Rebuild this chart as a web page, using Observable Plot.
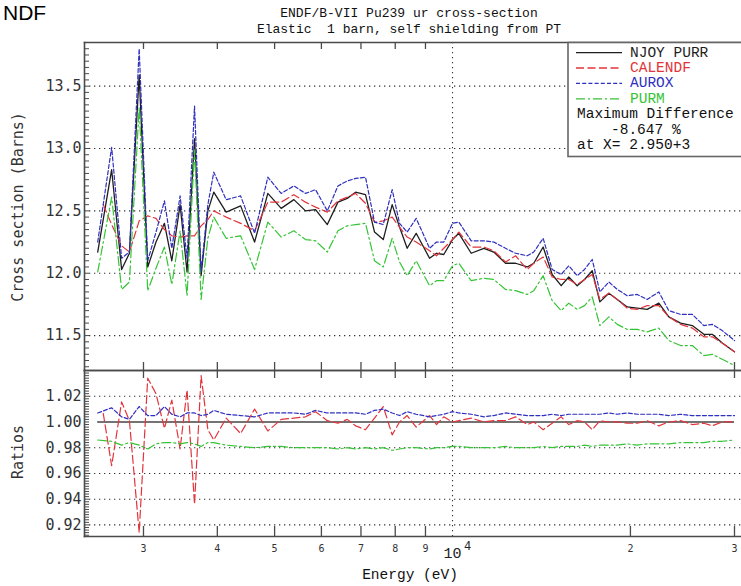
<!DOCTYPE html>
<html><head><meta charset="utf-8">
<script src="https://cdn.jsdelivr.net/npm/d3@7"></script>
<script src="https://cdn.jsdelivr.net/npm/@observablehq/plot@0.6"></script>
<style>
html,body{margin:0;padding:0;background:#fff}
#wrap{position:relative;width:741px;height:586px;overflow:hidden;background:#fff}
#wrap svg.plt{position:absolute;left:0;overflow:visible}
.t{position:absolute;white-space:pre;color:#111}
.mono{font-family:"Liberation Mono",monospace}
.dmono{font-family:"DejaVu Sans Mono",monospace}
</style></head>
<body><div id="wrap"></div>
<script>
// ---------- data ----------
const energy = [2510, 2650, 2755, 2840, 2950, 3050, 3150, 3255, 3350, 3460,
  3555, 3660, 3755, 3855, 3945, 4140, 4380, 4625, 4870, 5130,
  5390, 5640, 5865, 6140, 6400, 6635, 6855, 7125, 7380, 7635,
  7905, 8135, 8380, 8680, 9145, 9395, 9665, 10000, 10250, 10755,
  11300, 11745, 12295, 12785, 13380, 13725, 14235, 14745, 15270, 15730,
  16255, 16725, 17235, 17755, 18390, 19000, 19750, 20535, 21350, 22340,
  23225, 24320, 25450, 26625, 27510, 28600, 30000];
const calendfEnergy = [2565, 2650, 2755, 2840, 2950, 3050, 3150, 3255, 3350, 3460,
  3555, 3660, 3755, 3855, 3945, 4140, 4380, 4625, 4870, 5130,
  5390, 5640, 5865, 6140, 6400, 6635, 6855, 7125, 7380, 7635,
  7905, 8135, 8380, 8680, 9145, 9395, 9665, 10000, 10250, 10755,
  11300, 11745, 12295, 12785, 13380, 13725, 14235, 14745, 15270, 15730,
  16255, 16725, 17235, 17755, 18390, 19000, 19750, 20535, 21350, 22340,
  23225, 24320, 25450, 26625, 27510, 28600, 30000];
const njoyPurr = [12.17, 12.83, 12.03, 12.16, 13.59, 12.05, 12.25, 12.40, 12.10, 12.55,
  12.01, 13.08, 11.98, 12.50, 12.65, 12.49, 12.54, 12.25, 12.64, 12.52,
  12.59, 12.50, 12.51, 12.39, 12.57, 12.60, 12.65, 12.63, 12.33, 12.27,
  12.55, 12.37, 12.20, 12.32, 12.12, 12.16, 12.15, 12.27, 12.32, 12.16,
  12.20, 12.17, 12.08, 12.08, 12.05, 12.08, 12.21, 11.99, 11.90, 11.97,
  11.90, 11.95, 12.02, 11.77, 11.84, 11.79, 11.73, 11.72, 11.71, 11.76,
  11.65, 11.60, 11.58, 11.51, 11.51, 11.44, 11.37];
const calendf = [12.55, 12.39, 12.22, 12.17, 12.42, 12.46, 12.44, 12.35, 12.30, 12.29,
  12.30, 12.30, 12.38, 12.43, 12.50, 12.45, 12.40, 12.34, 12.57, 12.57,
  12.63, 12.57, 12.53, 12.49, 12.58, 12.61, 12.64, 12.56, 12.41, 12.42,
  12.45, 12.37, 12.29, 12.25, 12.18, 12.14, 12.20, 12.27, 12.33, 12.21,
  12.21, 12.18, 12.09, 12.14, 12.03, 12.08, 12.13, 11.97, 11.95, 11.95,
  11.91, 11.95, 11.99, 11.79, 11.84, 11.79, 11.72, 11.71, 11.74, 11.74,
  11.65, 11.59, 11.56, 11.49, 11.49, 11.44, 11.37];
const aurox = [12.25, 13.01, 12.12, 12.17, 13.80, 12.10, 12.33, 12.58, 12.20, 12.62,
  12.12, 13.34, 12.01, 12.55, 12.81, 12.59, 12.62, 12.32, 12.77, 12.64,
  12.70, 12.64, 12.67, 12.50, 12.70, 12.74, 12.76, 12.77, 12.41, 12.39,
  12.67, 12.40, 12.33, 12.44, 12.20, 12.25, 12.25, 12.40, 12.41, 12.26,
  12.26, 12.25, 12.20, 12.16, 12.14, 12.17, 12.28, 12.03, 11.99, 12.06,
  11.98, 12.03, 12.11, 11.85, 11.93, 11.87, 11.82, 11.83, 11.79, 11.85,
  11.70, 11.67, 11.67, 11.58, 11.59, 11.54, 11.46];
const purm = [12.01, 12.61, 11.87, 11.93, 13.33, 11.86, 12.04, 12.21, 11.91, 12.34,
  11.82, 12.99, 11.79, 12.28, 12.45, 12.28, 12.30, 12.03, 12.41, 12.29,
  12.34, 12.27, 12.26, 12.17, 12.34, 12.38, 12.39, 12.40, 12.10, 12.05,
  12.28, 12.09, 11.98, 12.10, 11.90, 11.94, 11.94, 12.06, 12.08, 11.94,
  11.96, 11.95, 11.87, 11.86, 11.83, 11.86, 11.98, 11.78, 11.70, 11.76,
  11.71, 11.74, 11.81, 11.58, 11.65, 11.59, 11.55, 11.55, 11.53, 11.56,
  11.46, 11.42, 11.42, 11.34, 11.35, 11.31, 11.26];
const ratioCalendf = [1.0065, 0.966, 1.0156, 1.001, 0.914, 1.034, 1.022, 0.995, 1.017, 0.979,
  1.025, 0.936, 1.036, 0.994, 0.986, 1.003, 0.991, 1.010, 0.993, 1.002,
  1.003, 1.004, 1.008, 1.001, 0.999, 1.002, 0.997, 0.994, 1.003, 1.012,
  0.990, 1.000, 1.005, 0.996, 1.005, 0.998, 1.004, 1.000, 1.001, 1.003,
  1.000, 1.001, 1.001, 1.004, 0.998, 1.000, 0.994, 0.999, 1.004, 0.998,
  1.001, 1.000, 0.994, 1.001, 1.000, 1.000, 0.999, 0.999, 1.001, 0.997,
  1.000, 1.001, 0.998, 0.999, 0.997, 1.000, 1.000];
const ratioAurox = [1.007, 1.011, 1.004, 1.002, 1.012, 1.005, 1.005, 1.012, 1.006, 1.004,
  1.007, 1.007, 1.005, 1.006, 1.009, 1.006, 1.005, 1.004, 1.007, 1.007,
  1.007, 1.006, 1.009, 1.007, 1.007, 1.007, 1.007, 1.006, 1.009, 1.010,
  1.007, 1.005, 1.008, 1.006, 1.004, 1.005, 1.006, 1.008, 1.007, 1.006,
  1.004, 1.005, 1.007, 1.006, 1.005, 1.005, 1.005, 1.006, 1.005, 1.006,
  1.006, 1.006, 1.006, 1.006, 1.007, 1.006, 1.007, 1.006, 1.006, 1.006,
  1.005, 1.006, 1.005, 1.005, 1.005, 1.005, 1.005];
const ratioPurm = [0.986, 0.985, 0.982, 0.984, 0.982, 0.979, 0.983, 0.984, 0.984, 0.983,
  0.984, 0.983, 0.981, 0.984, 0.984, 0.982, 0.981, 0.980, 0.981, 0.981,
  0.980, 0.980, 0.980, 0.980, 0.979, 0.980, 0.979, 0.980, 0.979, 0.980,
  0.978, 0.979, 0.980, 0.980, 0.979, 0.980, 0.980, 0.981, 0.981, 0.980,
  0.980, 0.980, 0.981, 0.980, 0.980, 0.980, 0.981, 0.980, 0.981, 0.981,
  0.981, 0.982, 0.981, 0.982, 0.982, 0.982, 0.983, 0.982, 0.983, 0.983,
  0.983, 0.984, 0.984, 0.984, 0.985, 0.985, 0.986];

const xMajorTicks = [3000, 4000, 5000, 6000, 7000, 8000, 9000, 20000, 30000];
const xTickLabels = ["3", "4", "5", "6", "7", "8", "9", "2", "3"];
const topTicks = [11.5, 12.0, 12.5, 13.0, 13.5];
const ratioTicks = [0.92, 0.94, 0.96, 0.98, 1.00, 1.02];
const seriesNames = ["NJOY PURR", "CALENDF", "AUROX", "PURM"];
const maxDiffLines = ["Maximum Difference", "-8.647 %", "at X= 2.950+3"];

// ---------- styles ----------
const C = {njoy: "#1e1e1e", cal: "#e2343a", aur: "#2f2fc0", purm: "#35c435", axis: "#4a4a4a", grid: "#333"};
const dash = {njoy: null, cal: "8,3.5", aur: "4,2.2", purm: "9,3,2,3"};
const xDomain = [2384, 30830];
const topDomain = [11.22, 13.85];
const ratioDomain = [0.911, 1.040];
const W = 741, ML = 84, MR = 0;
const frameW = W - ML - MR;
const topH = 336, topMT = 7, topMB = 1, topAreaH = topH - topMT - topMB;
const botH = 218, botMT = 1, botMB = 51, botAreaH = botH - botMT - botMB;

const rec = (xs, ys) => xs.map((e, i) => ({e, v: ys[i]}));
const lineMarks = (sets) => sets.map(([data, col, da, w]) =>
  Plot.line(data, {x: "e", y: "v", stroke: col, strokeWidth: w, strokeDasharray: da}));
const gridStyle = {stroke: C.grid, strokeDasharray: "1.3,3.7", strokeWidth: 1.1};
const tickStyle = {stroke: C.axis, strokeWidth: 1.3};
// inward tick marks drawn as short rules
const leftTicks = (vals, len) => Plot.ruleY(vals, {...tickStyle, strokeWidth: 1, insetRight: frameW - len});
const topXTicks = (areaH, len) => Plot.ruleX(xMajorTicks, {...tickStyle, insetBottom: areaH - len});
const botXTicks = (areaH, len) => Plot.ruleX(xMajorTicks, {...tickStyle, insetTop: areaH - len});

const wrap = document.getElementById("wrap");
const lab = (i) => xTickLabels[xMajorTicks.indexOf(i)];

// ---------- top panel ----------
const topPlot = Plot.plot({
  width: W, height: topH, marginTop: topMT, marginBottom: topMB, marginLeft: ML, marginRight: MR,
  x: {type: "log", domain: xDomain, axis: null},
  y: {domain: topDomain},
  marks: [
    Plot.ruleY(topTicks, gridStyle),
    Plot.ruleX([10000], gridStyle),
    ...lineMarks([
      [rec(energy, njoyPurr), C.njoy, dash.njoy, 1.3],
      [rec(calendfEnergy, calendf), C.cal, dash.cal, 1.2],
      [rec(energy, aurox), C.aur, dash.aur, 1.2],
      [rec(energy, purm), C.purm, dash.purm, 1.2]
    ]),
    Plot.axisY({ticks: topTicks, tickSize: 0, tickPadding: 3, tickFormat: d3.format(".1f"), label: null,
      fontSize: 15, fontFamily: "DejaVu Sans Mono", fill: "#333"}),
    leftTicks(d3.range(11.25, 13.86, 0.05), 5),
    topXTicks(topAreaH, 7),
    botXTicks(topAreaH, 8),
    Plot.frame({anchor: "left", stroke: C.axis, strokeWidth: 1.6}),
    Plot.frame({anchor: "top", stroke: C.axis, strokeWidth: 1.6}),
    Plot.frame({anchor: "bottom", stroke: C.axis, strokeWidth: 1.6})
  ]
});
topPlot.classList.add("plt");
topPlot.style.top = "35px";
wrap.appendChild(topPlot);

// ---------- ratio panel ----------
const botPlot = Plot.plot({
  width: W, height: botH, marginTop: botMT, marginBottom: botMB, marginLeft: ML, marginRight: MR,
  x: {type: "log", domain: xDomain},
  y: {domain: ratioDomain},
  marks: [
    Plot.ruleY(ratioTicks.filter(d => d !== 1), gridStyle),
    Plot.ruleX([10000], gridStyle),
    Plot.ruleY([1], {x1: energy[0], x2: energy[energy.length - 1], stroke: "#444", strokeWidth: 1.4}),
    ...lineMarks([
      [rec(calendfEnergy, ratioCalendf), C.cal, dash.cal, 1.2],
      [rec(energy, ratioAurox), C.aur, dash.aur, 1.2],
      [rec(energy, ratioPurm), C.purm, dash.purm, 1.2]
    ]),
    Plot.axisY({ticks: ratioTicks, tickSize: 0, tickPadding: 3, tickFormat: d3.format(".2f"), label: null,
      fontSize: 15, fontFamily: "DejaVu Sans Mono", fill: "#333"}),
    leftTicks(d3.range(0.912, 1.0395, 0.002), 5),
    topXTicks(botAreaH, 8),
    botXTicks(botAreaH, 10),
    Plot.axisX({anchor: "bottom", ticks: xMajorTicks, tickSize: 0, tickPadding: 8, tickFormat: lab, label: null,
      fontSize: 10, fontFamily: "DejaVu Sans Mono", fill: "#333"}),
    Plot.text([10000], {x: d => d, frameAnchor: "bottom", text: () => "10", dy: 21, fontSize: 15, fontFamily: "Liberation Mono", fill: "#222"}),
    Plot.text([10000], {x: d => d, frameAnchor: "bottom", text: () => "4", dx: 15, dy: 13, fontSize: 12, fontFamily: "Liberation Mono", fill: "#222"}),
    Plot.frame({anchor: "left", stroke: C.axis, strokeWidth: 1.6}),
    Plot.frame({anchor: "top", stroke: C.axis, strokeWidth: 1.6}),
    Plot.frame({anchor: "bottom", stroke: C.axis, strokeWidth: 1.6})
  ]
});
botPlot.classList.add("plt");
botPlot.style.top = "369px";
wrap.appendChild(botPlot);

// ---------- texts ----------
function addText(txt, cls, css) {
  const d = document.createElement("div");
  d.className = "t " + cls;
  d.textContent = txt;
  Object.assign(d.style, css);
  wrap.appendChild(d);
  return d;
}
addText("NDF", "", {left: "3px", top: "2px", fontFamily: "Liberation Sans, Arial, sans-serif", fontSize: "21px", lineHeight: "21px", color: "#000"});
addText("ENDF/B-VII Pu239 ur cross-section", "mono", {left: "109px", width: "600px", textAlign: "center", top: "6px", fontSize: "13px", lineHeight: "16px"});
addText("Elastic  1 barn, self shielding from PT", "mono", {left: "109px", width: "600px", textAlign: "center", top: "22px", fontSize: "13px", lineHeight: "16px"});
addText("Energy (eV)", "mono", {left: "260px", width: "300px", textAlign: "center", top: "566px", fontSize: "14.5px", lineHeight: "18px"});
addText("Cross section (Barns)", "dmono", {left: "-132px", width: "300px", textAlign: "center", top: "198px", fontSize: "15px", lineHeight: "18px", transform: "rotate(-90deg)", color: "#333"});
addText("Ratios", "dmono", {left: "-132px", width: "300px", textAlign: "center", top: "443px", fontSize: "15px", lineHeight: "18px", transform: "rotate(-90deg)", color: "#333"});

// ---------- legend box (overlay svg) ----------
const ns = "http://www.w3.org/2000/svg";
const ov = document.createElementNS(ns, "svg");
ov.setAttribute("width", 741); ov.setAttribute("height", 586);
ov.style.position = "absolute"; ov.style.left = "0"; ov.style.top = "0";
wrap.appendChild(ov);
function el(tag, attrs, text) {
  const e = document.createElementNS(ns, tag);
  for (const k in attrs) e.setAttribute(k, attrs[k]);
  if (text != null) e.textContent = text;
  ov.appendChild(e);
  return e;
}
el("rect", {x: 568, y: 42.5, width: 200, height: 114, fill: "#fff", stroke: "#666", "stroke-width": 1.6});
const legCols = [C.njoy, C.cal, C.aur, C.purm];
const legDash = [dash.njoy, dash.cal, dash.aur, dash.purm];
const rowY = [52.6, 68, 83.4, 98.8];
seriesNames.forEach((n, i) => {
  el("line", {x1: 576, x2: 622, y1: rowY[i], y2: rowY[i], stroke: legCols[i], "stroke-width": 1.3, "stroke-dasharray": legDash[i] || "none"});
  el("text", {x: 630, y: rowY[i], "dominant-baseline": "central", fill: legCols[i], "font-family": "Liberation Mono", "font-size": 14.5}, n);
});
const mdY = [114.2, 129.6, 145];
const mdX = [577, 611, 577];
maxDiffLines.forEach((t, i) => {
  el("text", {x: mdX[i], y: mdY[i], "dominant-baseline": "central", fill: "#111", "font-family": "Liberation Mono", "font-size": 14.5}, t);
});
</script></body></html>
